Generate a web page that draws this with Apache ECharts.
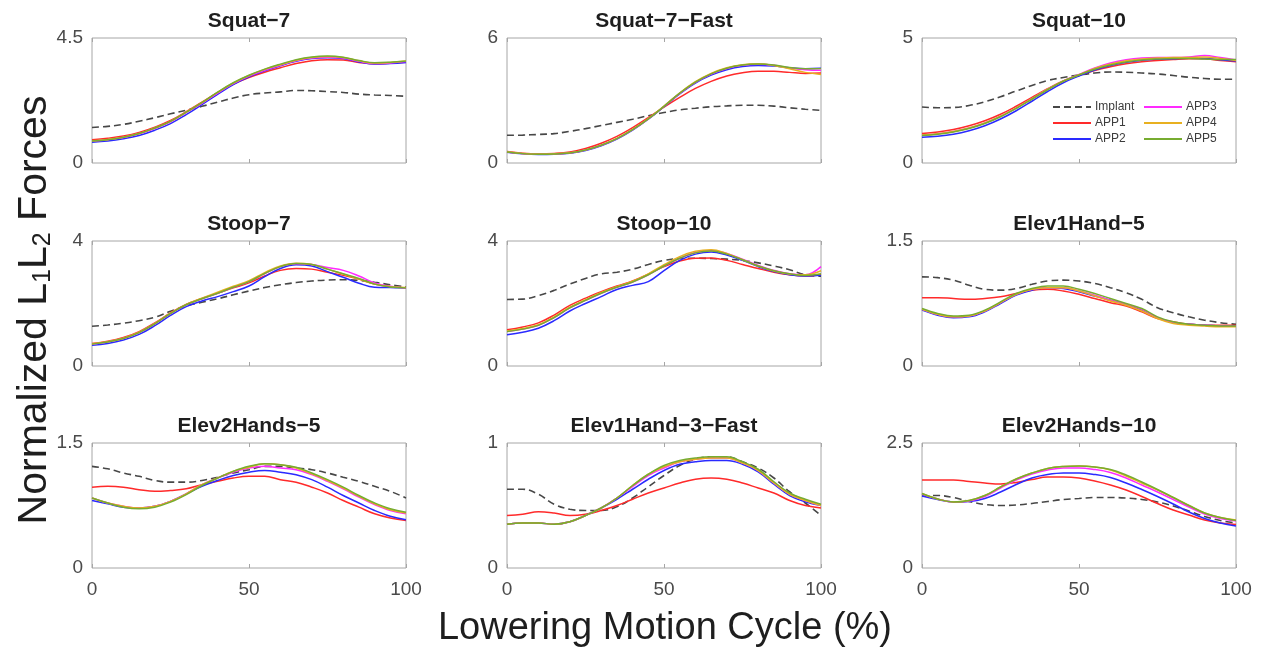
<!DOCTYPE html>
<html>
<head>
<meta charset="utf-8">
<title>Normalized L1L2 Forces</title>
<script src="https://cdn.jsdelivr.net/npm/echarts@6/dist/echarts.min.js"></script>
<style>
  html, body { margin: 0; padding: 0; background: #ffffff; }
  #chart { width: 1262px; height: 649px; }
</style>
</head>
<body>
<div id="chart"></div>
<script>
// Lowering motion cycle (%) sampled every 5 %
const cycle = [0,5,10,15,20,25,30,35,40,45,50,55,60,65,70,75,80,85,90,95,100];

const seriesNames = ['Implant', 'APP1', 'APP2', 'APP3', 'APP4', 'APP5'];
const seriesColors = ['#474747', '#ff2a2a', '#2a2aff', '#ff2aff', '#e8b020', '#77ac30'];

const panelTitles = ['Squat\u22127', 'Squat\u22127\u2212Fast', 'Squat\u221210',
                     'Stoop\u22127', 'Stoop\u221210', 'Elev1Hand\u22125',
                     'Elev2Hands\u22125', 'Elev1Hand\u22123\u2212Fast', 'Elev2Hands\u221210'];
const yMax = [4.5, 6, 5, 4, 4, 1.5, 1.5, 1, 2.5];

// Each panel: [Implant, APP1, APP2, APP3, APP4, APP5]
const squat7 = [
  [1.28,1.32,1.39,1.50,1.63,1.77,1.90,2.04,2.19,2.34,2.46,2.52,2.56,2.61,2.60,2.57,2.54,2.48,2.45,2.43,2.40],
  [0.84,0.89,0.97,1.10,1.29,1.53,1.85,2.19,2.53,2.84,3.08,3.27,3.43,3.58,3.68,3.72,3.71,3.62,3.57,3.60,3.63],
  [0.75,0.79,0.87,0.99,1.18,1.42,1.74,2.10,2.47,2.82,3.10,3.32,3.50,3.66,3.76,3.79,3.76,3.64,3.56,3.58,3.62],
  [0.79,0.84,0.92,1.05,1.24,1.48,1.81,2.15,2.52,2.86,3.13,3.34,3.52,3.68,3.78,3.81,3.78,3.66,3.58,3.60,3.65],
  [0.80,0.85,0.93,1.06,1.26,1.50,1.83,2.17,2.54,2.88,3.15,3.37,3.54,3.70,3.80,3.83,3.80,3.68,3.60,3.62,3.67],
  [0.79,0.84,0.93,1.06,1.26,1.50,1.83,2.17,2.55,2.89,3.16,3.38,3.56,3.72,3.82,3.85,3.81,3.69,3.61,3.63,3.67]
];
const squat7Fast = [
  [1.33,1.34,1.37,1.41,1.52,1.65,1.80,1.95,2.10,2.27,2.42,2.55,2.63,2.70,2.74,2.77,2.77,2.73,2.65,2.58,2.53],
  [0.55,0.47,0.44,0.46,0.53,0.70,0.95,1.28,1.70,2.18,2.68,3.15,3.58,3.92,4.18,4.33,4.40,4.40,4.35,4.30,4.32],
  [0.52,0.44,0.41,0.42,0.47,0.60,0.83,1.15,1.58,2.10,2.70,3.32,3.84,4.22,4.48,4.63,4.68,4.65,4.57,4.53,4.55],
  [0.53,0.45,0.42,0.43,0.48,0.62,0.85,1.17,1.60,2.12,2.72,3.34,3.87,4.27,4.54,4.69,4.74,4.69,4.56,4.48,4.45],
  [0.54,0.46,0.43,0.44,0.49,0.63,0.86,1.18,1.61,2.13,2.73,3.36,3.90,4.30,4.57,4.72,4.76,4.68,4.52,4.35,4.25],
  [0.53,0.45,0.42,0.43,0.48,0.62,0.85,1.17,1.60,2.12,2.72,3.35,3.88,4.28,4.55,4.70,4.75,4.70,4.58,4.52,4.53]
];
const squat10 = [
  [2.24,2.21,2.22,2.30,2.45,2.65,2.88,3.10,3.30,3.42,3.52,3.60,3.64,3.63,3.60,3.56,3.50,3.43,3.38,3.35,3.35],
  [1.18,1.24,1.34,1.49,1.69,1.95,2.27,2.62,2.97,3.28,3.50,3.70,3.85,3.97,4.05,4.10,4.14,4.17,4.17,4.10,4.05],
  [1.03,1.07,1.15,1.29,1.49,1.76,2.09,2.47,2.86,3.21,3.48,3.72,3.90,4.03,4.11,4.15,4.17,4.19,4.18,4.13,4.08],
  [1.12,1.17,1.26,1.40,1.60,1.87,2.20,2.57,2.95,3.28,3.54,3.80,4.00,4.13,4.20,4.22,4.22,4.24,4.30,4.22,4.12],
  [1.12,1.17,1.26,1.40,1.60,1.87,2.20,2.57,2.95,3.28,3.53,3.78,3.96,4.09,4.16,4.20,4.22,4.22,4.24,4.18,4.10],
  [1.10,1.15,1.24,1.38,1.58,1.85,2.18,2.55,2.93,3.27,3.52,3.75,3.92,4.04,4.12,4.16,4.18,4.18,4.16,4.14,4.14]
];
const stoop7 = [
  [1.27,1.31,1.37,1.45,1.56,1.75,1.92,2.04,2.15,2.28,2.40,2.51,2.60,2.67,2.72,2.75,2.76,2.74,2.68,2.60,2.53],
  [0.72,0.79,0.91,1.10,1.38,1.70,1.97,2.16,2.33,2.50,2.66,2.88,3.06,3.12,3.10,3.00,2.90,2.78,2.62,2.54,2.50],
  [0.66,0.72,0.83,1.01,1.29,1.62,1.90,2.08,2.22,2.38,2.56,2.86,3.12,3.24,3.20,3.02,2.84,2.65,2.52,2.51,2.50],
  [0.70,0.77,0.88,1.07,1.35,1.68,1.96,2.15,2.33,2.52,2.70,2.96,3.18,3.27,3.25,3.15,3.06,2.88,2.66,2.55,2.50],
  [0.71,0.78,0.89,1.08,1.36,1.69,1.97,2.17,2.36,2.55,2.73,2.99,3.20,3.29,3.25,3.10,2.94,2.78,2.62,2.54,2.51],
  [0.70,0.77,0.88,1.07,1.35,1.68,1.96,2.15,2.33,2.52,2.70,2.96,3.18,3.28,3.25,3.10,2.95,2.80,2.62,2.53,2.50]
];
const stoop10 = [
  [2.13,2.14,2.25,2.42,2.62,2.80,2.95,3.00,3.10,3.25,3.38,3.44,3.45,3.44,3.42,3.38,3.30,3.20,3.08,2.92,2.87],
  [1.16,1.25,1.38,1.63,1.94,2.17,2.38,2.56,2.72,2.94,3.18,3.36,3.45,3.46,3.38,3.25,3.12,3.00,2.92,2.88,2.92],
  [1.00,1.08,1.21,1.45,1.76,2.00,2.22,2.45,2.58,2.70,3.05,3.38,3.58,3.65,3.55,3.38,3.18,3.02,2.92,2.88,2.90],
  [1.10,1.18,1.30,1.55,1.86,2.10,2.33,2.52,2.69,2.92,3.20,3.45,3.63,3.70,3.60,3.42,3.22,3.06,2.95,2.92,3.18],
  [1.12,1.20,1.32,1.57,1.88,2.12,2.35,2.54,2.71,2.95,3.24,3.50,3.67,3.72,3.60,3.40,3.20,3.04,2.94,2.92,3.05],
  [1.10,1.18,1.30,1.55,1.86,2.10,2.33,2.52,2.69,2.92,3.20,3.45,3.62,3.68,3.58,3.40,3.20,3.05,2.95,2.90,2.95]
];
const elev1Hand5 = [
  [1.07,1.06,1.03,0.97,0.92,0.91,0.93,0.98,1.02,1.03,1.02,0.99,0.94,0.88,0.80,0.70,0.64,0.59,0.55,0.52,0.50],
  [0.82,0.82,0.81,0.80,0.81,0.83,0.87,0.91,0.92,0.90,0.86,0.81,0.76,0.72,0.65,0.57,0.53,0.50,0.49,0.49,0.49],
  [0.67,0.61,0.58,0.59,0.65,0.75,0.85,0.91,0.94,0.93,0.89,0.84,0.79,0.74,0.67,0.58,0.52,0.50,0.49,0.48,0.48],
  [0.68,0.62,0.59,0.60,0.66,0.76,0.86,0.92,0.94,0.94,0.90,0.85,0.79,0.74,0.68,0.58,0.52,0.50,0.49,0.48,0.48],
  [0.68,0.62,0.59,0.60,0.66,0.76,0.86,0.92,0.94,0.94,0.90,0.84,0.78,0.73,0.66,0.57,0.51,0.49,0.48,0.47,0.47],
  [0.69,0.63,0.60,0.61,0.67,0.77,0.87,0.93,0.96,0.96,0.92,0.87,0.81,0.75,0.69,0.59,0.53,0.50,0.49,0.48,0.48]
];
const elev2Hands5 = [
  [1.22,1.19,1.14,1.10,1.05,1.03,1.03,1.05,1.09,1.14,1.18,1.22,1.22,1.20,1.18,1.14,1.09,1.04,0.98,0.92,0.84],
  [0.97,0.98,0.97,0.94,0.92,0.93,0.95,1.00,1.04,1.08,1.10,1.10,1.06,1.03,0.97,0.90,0.81,0.73,0.65,0.60,0.57],
  [0.81,0.77,0.73,0.72,0.74,0.80,0.89,0.98,1.05,1.11,1.15,1.17,1.15,1.12,1.06,0.97,0.87,0.78,0.69,0.62,0.58],
  [0.84,0.78,0.74,0.72,0.74,0.80,0.89,1.00,1.08,1.15,1.20,1.22,1.20,1.18,1.12,1.04,0.95,0.85,0.76,0.69,0.65],
  [0.84,0.78,0.74,0.72,0.74,0.80,0.89,1.00,1.08,1.16,1.21,1.25,1.24,1.20,1.13,1.05,0.96,0.86,0.77,0.70,0.66],
  [0.84,0.78,0.73,0.71,0.73,0.79,0.88,0.99,1.08,1.16,1.22,1.25,1.24,1.21,1.14,1.06,0.97,0.87,0.78,0.71,0.67]
];
const elev1Hand3Fast = [
  [0.63,0.63,0.59,0.51,0.47,0.46,0.46,0.49,0.56,0.65,0.74,0.82,0.87,0.89,0.89,0.85,0.80,0.72,0.61,0.52,0.42],
  [0.42,0.43,0.45,0.44,0.42,0.43,0.46,0.50,0.55,0.60,0.64,0.68,0.71,0.72,0.71,0.68,0.64,0.60,0.54,0.50,0.48],
  [0.35,0.36,0.36,0.35,0.37,0.42,0.48,0.55,0.63,0.71,0.78,0.83,0.85,0.86,0.86,0.83,0.77,0.67,0.58,0.53,0.50],
  [0.35,0.36,0.36,0.35,0.37,0.42,0.48,0.56,0.65,0.74,0.80,0.85,0.87,0.88,0.88,0.84,0.78,0.68,0.59,0.54,0.50],
  [0.35,0.36,0.36,0.35,0.37,0.42,0.48,0.56,0.66,0.75,0.81,0.85,0.87,0.88,0.88,0.84,0.78,0.68,0.59,0.54,0.50],
  [0.35,0.36,0.36,0.35,0.37,0.42,0.48,0.56,0.66,0.75,0.82,0.86,0.88,0.89,0.89,0.85,0.79,0.69,0.60,0.55,0.51]
];
const elev2Hands10 = [
  [1.44,1.45,1.41,1.33,1.27,1.25,1.26,1.29,1.33,1.37,1.39,1.41,1.41,1.40,1.37,1.32,1.24,1.14,1.03,0.95,0.90],
  [1.76,1.76,1.76,1.73,1.70,1.68,1.71,1.77,1.82,1.82,1.80,1.74,1.66,1.56,1.43,1.29,1.16,1.06,0.96,0.90,0.87],
  [1.44,1.37,1.32,1.33,1.39,1.52,1.67,1.80,1.87,1.90,1.90,1.87,1.81,1.70,1.57,1.43,1.28,1.12,0.99,0.90,0.84],
  [1.48,1.38,1.32,1.34,1.43,1.60,1.76,1.88,1.96,2.00,2.00,1.97,1.91,1.80,1.66,1.52,1.37,1.22,1.08,0.99,0.94],
  [1.49,1.38,1.32,1.35,1.45,1.62,1.78,1.90,1.99,2.03,2.04,2.02,1.96,1.84,1.70,1.56,1.41,1.25,1.10,1.01,0.96],
  [1.49,1.38,1.32,1.35,1.45,1.62,1.78,1.90,1.99,2.03,2.04,2.02,1.97,1.86,1.72,1.57,1.41,1.25,1.10,1.01,0.95]
];

const panels = [squat7, squat7Fast, squat10, stoop7, stoop10, elev1Hand5,
                elev2Hands5, elev1Hand3Fast, elev2Hands10];

// 3 x 3 layout of plot boxes
const colLeft = [92, 507, 922];
const rowTop = [38, 241, 443];
const boxW = 314, boxH = 125;

const FONT = 'Liberation Sans, Arial, Helvetica, sans-serif';
const boxColor = '#a6a6a6';
const tickText = '#4a4a4a';

const grid = [], xAxis = [], yAxis = [], series = [], title = [];

panels.forEach((panel, i) => {
  const r = Math.floor(i / 3), c = i % 3;
  grid.push({
    left: colLeft[c], top: rowTop[r], width: boxW, height: boxH,
    show: true, borderColor: boxColor, borderWidth: 1, backgroundColor: '#ffffff'
  });
  title.push({
    text: panelTitles[i],
    left: colLeft[c] + boxW / 2,
    top: rowTop[r] - 27,
    textAlign: 'center',
    padding: 0,
    textStyle: { fontFamily: FONT, fontSize: 21, fontWeight: 'bold', color: '#1e1e1e' }
  });
  // bottom axis (data) and a top axis used only for the inner tick
  xAxis.push({
    type: 'value', gridIndex: i, min: 0, max: 100, interval: 50, position: 'bottom',
    axisLine: { show: false },
    axisTick: { show: true, inside: true, length: 4, lineStyle: { color: boxColor } },
    splitLine: { show: false },
    axisLabel: { show: r === 2, fontFamily: FONT, fontSize: 19, color: tickText, margin: 12 }
  });
  xAxis.push({
    type: 'value', gridIndex: i, min: 0, max: 100, interval: 50, position: 'top',
    axisLine: { show: false },
    axisTick: { show: true, inside: true, length: 4, lineStyle: { color: boxColor } },
    splitLine: { show: false },
    axisLabel: { show: false }
  });
  yAxis.push({
    type: 'value', gridIndex: i, min: 0, max: yMax[i], interval: yMax[i],
    axisLine: { show: false },
    axisTick: { show: false },
    splitLine: { show: false },
    axisLabel: { fontFamily: FONT, fontSize: 19, color: tickText, margin: 9 }
  });
  panel.forEach((vals, k) => {
    series.push({
      type: 'line',
      name: seriesNames[k],
      xAxisIndex: i * 2,
      yAxisIndex: i,
      data: cycle.map((x, j) => [x, vals[j]]),
      smooth: 0.4,
      symbol: 'none',
      silent: true,
      lineStyle: {
        color: seriesColors[k],
        width: k === 0 ? 1.6 : 1.5,
        type: k === 0 ? [7, 4] : 'solid'
      },
      itemStyle: { color: seriesColors[k] }
    });
  });
});

const legendCommon = {
  orient: 'vertical', top: 101, padding: 0, itemGap: 4,
  itemWidth: 38, itemHeight: 10, selectedMode: false,
  itemStyle: { opacity: 0 },
  textStyle: { fontFamily: FONT, fontSize: 12, color: '#3c3c3c', padding: [0, 0, 0, -1] }
};

const option = {
  backgroundColor: '#ffffff',
  animation: false,
  title: title,
  grid: grid,
  xAxis: xAxis,
  yAxis: yAxis,
  series: series,
  legend: [
    Object.assign({ left: 1052, data: ['Implant', 'APP1', 'APP2'] }, legendCommon),
    Object.assign({ left: 1143, data: ['APP3', 'APP4', 'APP5'] }, legendCommon)
  ],
  graphic: [
    {
      type: 'text', x: 35, y: 310, rotation: Math.PI / 2,
      style: {
        text: '{n|Normalized L}{s|1}{n|L}{s|2}{n| Forces}',
        align: 'center', verticalAlign: 'middle',
        fill: '#1e1e1e',
        rich: {
          n: { fontFamily: FONT, fontSize: 41, lineHeight: 41, fill: '#1e1e1e' },
          s: { fontFamily: FONT, fontSize: 25, lineHeight: 12, verticalAlign: 'bottom', fill: '#1e1e1e' }
        }
      }
    },
    {
      type: 'text', x: 665, y: 629,
      style: {
        text: 'Lowering Motion Cycle (%)',
        align: 'center', verticalAlign: 'middle',
        fontFamily: FONT, fontSize: 38, fill: '#1e1e1e'
      }
    }
  ]
};

const chart = echarts.init(document.getElementById('chart'), null, { renderer: 'canvas' });
chart.setOption(option);
</script>
</body>
</html>
